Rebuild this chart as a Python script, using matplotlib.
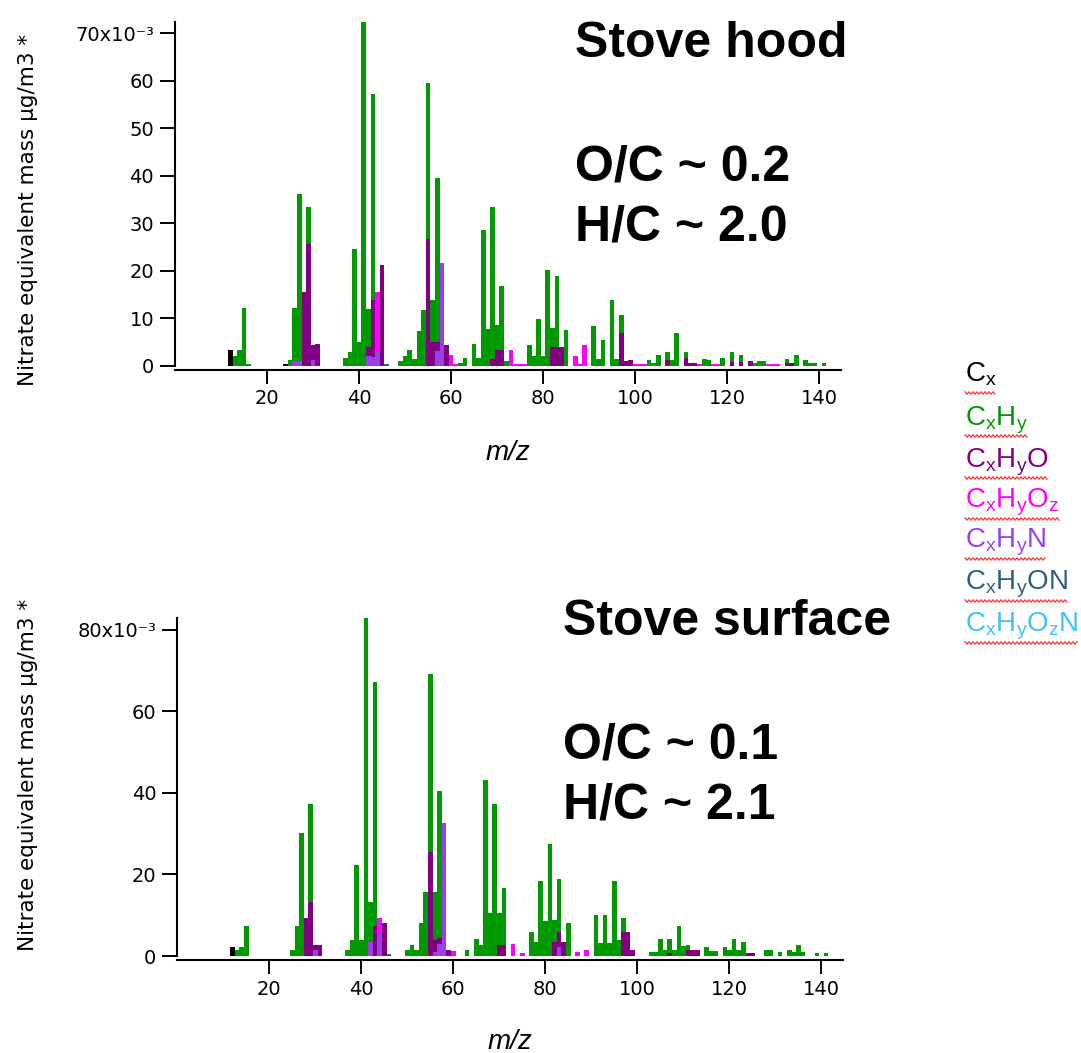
import numpy as np
import matplotlib
matplotlib.use("Agg")
import matplotlib.pyplot as plt
from matplotlib.lines import Line2D

plt.rcParams['font.family'] = ['Liberation Sans', 'DejaVu Sans']
plt.rcParams['mathtext.fontset'] = 'custom'
plt.rcParams['mathtext.rm'] = 'Liberation Sans'
plt.rcParams['mathtext.it'] = 'Liberation Sans:italic'
plt.rcParams['mathtext.bf'] = 'Liberation Sans:bold'
plt.rcParams['mathtext.default'] = 'regular'

# ---- Stove hood (values x10^-3) ----
hood_cx_mz = [12, 24]
hood_cx = [3.3, 0.3]
hood_cxhy_mz = [13, 14, 15, 16, 25, 26, 27, 29, 37, 38, 39, 40, 41, 42, 43,
                49, 50, 51, 52, 53, 54, 55, 56, 57, 62, 63, 65, 66, 67, 68, 69, 70, 71, 72,
                77, 78, 79, 80, 81, 82, 83, 85, 91, 92, 93, 95, 96, 97,
                103, 104, 105, 107, 108, 109, 111, 115, 116, 119, 121, 123, 126, 127, 128,
                133, 135, 137, 138, 139, 141]
hood_cxhy = [2.1, 3.3, 12.2, 0.3, 1.3, 11.2, 35.2, 7.7, 1.7, 2.8, 24.6, 5.0, 72.4, 8.0, 43.3,
             1.0, 2.0, 3.3, 1.5, 7.3, 11.7, 32.9, 8.9, 34.5, 0.5, 1.7, 4.5, 1.7, 28.5, 7.8, 31.9, 5.2, 13.4, 1.0,
             4.3, 2.0, 9.9, 2.0, 20.1, 4.0, 14.8, 7.6, 8.3, 1.5, 5.5, 13.9, 1.5, 3.8,
             1.2, 0.5, 2.2, 1.7, 1.2, 6.8, 1.2, 1.4, 1.2, 1.7, 2.1, 1.4, 0.5, 1.0, 1.0,
             0.9, 2.2, 1.2, 0.5, 0.5, 0.5]
hood_cxhyo_mz = [28, 29, 30, 31, 42, 43, 45, 55, 56, 57, 59, 69, 70, 71, 82, 83, 84,
                 97, 98, 99, 107, 111, 112, 113, 121, 123, 125, 133, 134]
hood_cxhyo = [15.5, 25.7, 3.1, 4.5, 2.0, 11.9, 21.1, 26.7, 5.0, 2.0, 4.3, 1.5, 3.3, 3.3, 4.0, 4.0, 4.0,
              6.8, 1.0, 1.2, 1.2, 1.7, 0.6, 0.6, 0.8, 0.8, 1.0, 0.6, 0.6]
hood_cxhyoz_mz = [44, 60, 61, 73, 74, 75, 76, 87, 88, 89, 100, 101, 102, 114, 117, 118, 129, 130, 131]
hood_cxhyoz = [12.6, 2.2, 0.3, 3.4, 0.3, 0.3, 0.3, 2.1, 0.3, 4.3, 0.3, 0.3, 0.3, 0.3, 0.3, 0.3, 0.3, 0.3, 0.3]
hood_cxhyn_mz = [26, 27, 30, 42, 43, 44, 57, 58]
hood_cxhyn = [1.0, 1.0, 1.2, 2.0, 1.9, 2.9, 3.0, 21.7]
hood_cxhyon_mz = [46]
hood_cxhyon = [0.4]
hood_cxhyozn_mz = []
hood_cxhyozn = []

# ---- Stove surface (values x10^-3) ----
surf_cx_mz = [12]
surf_cx = [2.1]
surf_cxhy_mz = [13, 14, 15, 25, 26, 27, 29, 37, 38, 39, 40, 41, 42, 43,
                50, 51, 52, 53, 54, 55, 56, 57, 63, 65, 66, 67, 68, 69, 70, 71,
                77, 78, 79, 80, 81, 82, 83, 85, 91, 92, 93, 94, 95, 96, 97,
                103, 104, 105, 106, 107, 108, 109, 110, 111, 115, 116, 117, 119, 120, 121, 122, 123,
                128, 129, 131, 133, 134, 135, 136, 139, 141]
surf_cxhy = [1.5, 2.1, 7.4, 1.5, 7.4, 30.1, 24.0, 1.5, 3.9, 22.3, 3.9, 82.8, 9.8, 59.8,
             1.5, 2.7, 1.5, 8.0, 15.8, 43.5, 11.9, 36.0, 1.5, 4.1, 2.7, 43.1, 10.5, 37.3, 7.8, 13.9,
             6.0, 3.4, 18.4, 8.7, 27.4, 5.3, 13.2, 8.1, 10.0, 3.1, 10.0, 3.1, 18.4, 3.9, 3.2,
             1.0, 1.0, 4.1, 1.5, 3.3, 1.5, 7.4, 2.5, 1.2, 2.3, 1.3, 1.3, 2.3, 1.5, 4.1, 1.5, 3.5,
             1.5, 1.5, 1.0, 1.5, 1.0, 2.7, 1.0, 0.8, 0.8]
surf_cxhyo_mz = [28, 29, 30, 31, 43, 45, 55, 56, 57, 59, 70, 71, 82, 83, 84,
                 97, 98, 99, 107, 111, 112, 113, 124, 125]
surf_cxhyo = [9.2, 13.3, 1.2, 2.7, 7.4, 8.0, 25.6, 2.9, 1.5, 1.5, 2.7, 2.7, 3.5, 3.5, 3.5,
              6.0, 6.0, 1.5, 0.8, 1.5, 1.5, 1.5, 0.8, 0.8]
surf_cxhyoz_mz = [44, 60, 73, 75, 87, 89]
surf_cxhyoz = [3.8, 1.3, 3.0, 0.8, 1.0, 1.5]
surf_cxhyn_mz = [30, 42, 44, 56, 57, 58, 83]
surf_cxhyn = [1.5, 3.5, 5.4, 1.0, 3.0, 32.7, 2.3]
surf_cxhyon_mz = [46]
surf_cxhyon = [0.4]
surf_cxhyozn_mz = []
surf_cxhyozn = []

family_names = [r'C$_{x}$', r'C$_{x}$H$_{y}$', r'C$_{x}$H$_{y}$O', r'C$_{x}$H$_{y}$O$_{z}$',
                r'C$_{x}$H$_{y}$N', r'C$_{x}$H$_{y}$ON', r'C$_{x}$H$_{y}$O$_{z}$N']
family_colors = ['#000000', '#009a00', '#800080', '#ff00ff', '#9a40e8', '#2a6080', '#40c0ff']

# stacking order bottom -> top (indices into family lists)
stack_order = [0, 4, 5, 6, 2, 3, 1]


def draw_panel(ax, fams, ymax, yticks, yticklabels, label_y, xlab_y, ylab_x):
    mz_all = np.arange(0, 150)
    bottom = np.zeros(len(mz_all))
    for k in stack_order:
        mzs, vals = fams[k]
        h = np.zeros(len(mz_all))
        for m, v in zip(mzs, vals):
            h[m] += v
        keep = h > 0
        if keep.any():
            ax.bar(mz_all[keep], h[keep] * 1e-3, width=1.0, bottom=bottom[keep] * 1e-3,
                   color=family_colors[k], linewidth=0)
        bottom += h
    ax.set_xlim(0, 144.7)
    ax.set_ylim(0, ymax * 1e-3)
    ax.set_xticks([20, 40, 60, 80, 100, 120, 140])
    ax.set_yticks(np.array(yticks) * 1e-3)
    ax.set_yticklabels(yticklabels)
    for s in ['top', 'right']:
        ax.spines[s].set_visible(False)
    for s in ['left', 'bottom']:
        ax.spines[s].set_linewidth(1.5)
    ax.spines['bottom'].set_position(('outward', 3))
    ax.tick_params(axis='both', direction='out', width=1.4, colors='black',
                   labelsize=14, labelfontfamily='DejaVu Sans')
    ax.tick_params(axis='y', length=11, pad=4)
    ax.tick_params(axis='x', length=10, pad=4)
    ax.set_xlabel('m/z', fontsize=20, style='italic')
    ax.xaxis.set_label_coords(0.5, xlab_y)
    ax.set_ylabel('Nitrate equivalent mass µg/m3 *', fontsize=15.5, family=['DejaVu Sans'])
    ax.yaxis.set_label_coords(ylab_x, label_y)


fig = plt.figure(figsize=(10.81, 10.53), dpi=100)
ax1 = fig.add_axes([0.1619, 0.6527, 0.616, 0.3267])
ax2 = fig.add_axes([0.164, 0.0921, 0.6159, 0.3207])

hood = [(hood_cx_mz, hood_cx), (hood_cxhy_mz, hood_cxhy), (hood_cxhyo_mz, hood_cxhyo),
        (hood_cxhyoz_mz, hood_cxhyoz), (hood_cxhyn_mz, hood_cxhyn),
        (hood_cxhyon_mz, hood_cxhyon), (hood_cxhyozn_mz, hood_cxhyozn)]
surf = [(surf_cx_mz, surf_cx), (surf_cxhy_mz, surf_cxhy), (surf_cxhyo_mz, surf_cxhyo),
        (surf_cxhyoz_mz, surf_cxhyoz), (surf_cxhyn_mz, surf_cxhyn),
        (surf_cxhyon_mz, surf_cxhyon), (surf_cxhyozn_mz, surf_cxhyozn)]

draw_panel(ax1, hood, 72.4, [0, 10, 20, 30, 40, 50, 60, 70],
           ['0', '10', '20', '30', '40', '50', '60', '70x10⁻³'],
           0.453, -0.215, -0.206)
draw_panel(ax2, surf, 82.8, [0, 20, 40, 60, 80],
           ['0', '20', '40', '60', '80x10⁻³'],
           0.536, -0.215, -0.209)

W, H = 1081.0, 1053.0


def ftext(x, y, s, **kw):
    return fig.text(x / W, 1 - y / H, s, va='baseline', ha='left', **kw)


ftext(575, 57, 'Stove hood', fontsize=36, fontweight='bold')
ftext(575, 180, 'O/C ~ 0.2', fontsize=36, fontweight='bold')
ftext(575, 240, 'H/C ~ 2.0', fontsize=36, fontweight='bold')
ftext(563, 635, 'Stove surface', fontsize=36, fontweight='bold')
ftext(563, 758, 'O/C ~ 0.1', fontsize=36, fontweight='bold')
ftext(563, 818, 'H/C ~ 2.1', fontsize=36, fontweight='bold')

legend_y = [382, 425, 467, 508, 548, 590, 632]
legend_texts = []
for name, col, yb in zip(family_names, family_colors, legend_y):
    legend_texts.append((ftext(965, yb, name, fontsize=20, color=col), yb))

# red spell-check squiggles under the legend entries
fig.canvas.draw()
renderer = fig.canvas.get_renderer()
for t, yb in legend_texts:
    bb = t.get_window_extent(renderer)
    xs = np.arange(bb.x0, bb.x1 + 0.1, 2.0)
    ys = np.where(np.arange(len(xs)) % 2 == 0, 1.2, -1.2) + (H - yb - 11)
    fig.add_artist(Line2D(xs / W, ys / H, transform=fig.transFigure,
                          color='#ff3030', lw=0.9))

fig.savefig('out.png', dpi=100)
